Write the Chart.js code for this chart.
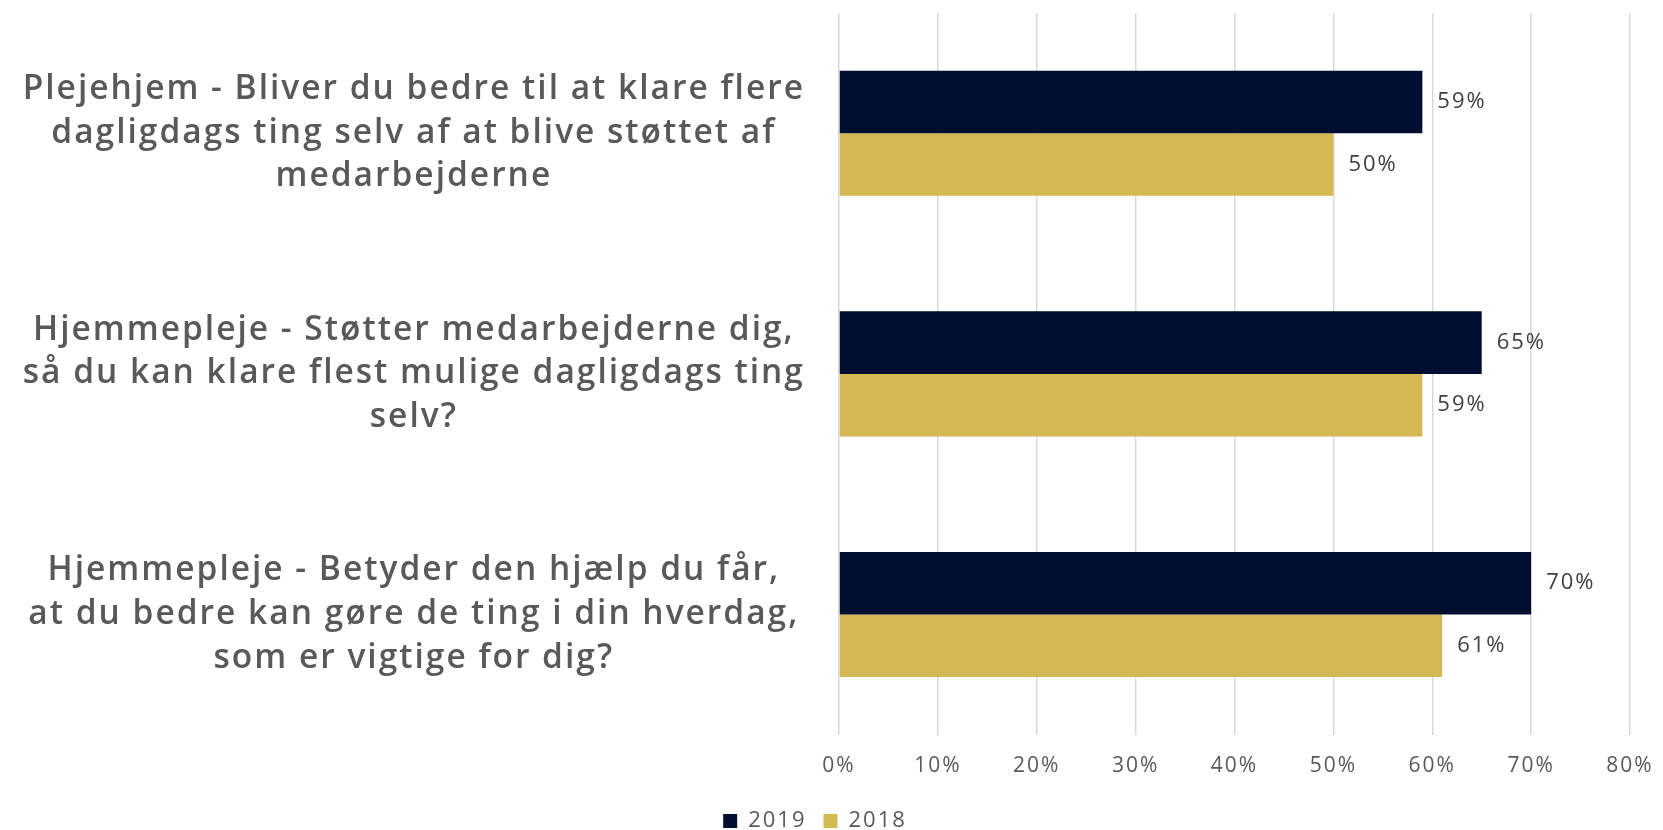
<!DOCTYPE html>
<html><head><meta charset="utf-8">
<script src="https://cdn.jsdelivr.net/npm/chart.js@4/dist/chart.umd.min.js"></script>
<style>html,body{margin:0;padding:0;background:#fff}#wrap{width:1663px;height:830px}</style>
</head><body><div id="wrap"><canvas id="c"></canvas></div>
<script>
const categories = [
  ["Plejehjem - Bliver du bedre til at klare flere","dagligdags ting selv af at blive støttet af","medarbejderne"],
  ["Hjemmepleje - Støtter medarbejderne dig,","så du kan klare flest mulige dagligdags ting","selv?"],
  ["Hjemmepleje - Betyder den hjælp du får,","at du bedre kan gøre de ting i din hverdag,","som er vigtige for dig?"]
];
const values2019 = [59, 65, 70];
const values2018 = [50, 59, 61];
const seriesNames = ["2019", "2018"];
const FONT = "'Open Sans'";
const SPACING = '2px';

const spacingPlugin = {
  id: 'spacing',
  beforeUpdate(chart) { chart.ctx.letterSpacing = SPACING; },
  beforeLayout(chart) { chart.ctx.letterSpacing = SPACING; },
  beforeDraw(chart) { chart.ctx.letterSpacing = SPACING; }
};

const valueLabels = {
  id: 'valueLabels',
  afterDatasetsDraw(chart) {
    const ctx = chart.ctx;
    ctx.save();
    ctx.letterSpacing = SPACING;
    ctx.font = '22px ' + FONT;
    ctx.fillStyle = '#404040';
    ctx.textBaseline = 'middle';
    ctx.textAlign = 'left';
    chart.data.datasets.forEach((ds, i) => {
      chart.getDatasetMeta(i).data.forEach((bar, j) => {
        ctx.fillText(ds.data[j] + '%', bar.x + 15, bar.y);
      });
    });
    ctx.restore();
  }
};

new Chart(document.getElementById('c'), {
  type: 'bar',
  data: {
    labels: categories,
    datasets: [
      { label: seriesNames[0], data: values2019, backgroundColor: '#000e2f' },
      { label: seriesNames[1], data: values2018, backgroundColor: '#d3b853' }
    ]
  },
  options: {
    indexAxis: 'y',
    responsive: true,
    maintainAspectRatio: false,
    animation: false,
    layout: { padding: { top: 13, right: 33, bottom: -12, left: 0 } },
    datasets: { bar: { barPercentage: 1, categoryPercentage: 0.52 } },
    scales: {
      x: {
        min: 0, max: 80,
        ticks: { stepSize: 10, callback: v => v + '%', color: '#595959', font: { family: FONT, size: 21 }, padding: 19 },
        grid: { color: '#d9d9d9', lineWidth: 1.5, drawTicks: false },
        border: { display: false },
        afterFit(scale) { scale.height -= 5; scale.paddingLeft = 0; scale.paddingRight = 0; }
      },
      y: {
        ticks: { color: '#595959', font: { family: FONT, size: 33.5, weight: '600', lineHeight: 1.3 }, crossAlign: 'center', padding: 26 },
        grid: { display: false },
        border: { display: false },
        afterFit(scale) { scale.width = 839; scale.paddingTop = 0; scale.paddingBottom = 0; }
      }
    },
    plugins: {
      legend: {
        position: 'bottom',
        labels: { color: '#595959', font: { family: FONT, size: 22 }, boxWidth: 14, boxHeight: 14, padding: 17 }
      },
      tooltip: { enabled: false }
    }
  },
  plugins: [spacingPlugin, valueLabels]
});
</script></body></html>
